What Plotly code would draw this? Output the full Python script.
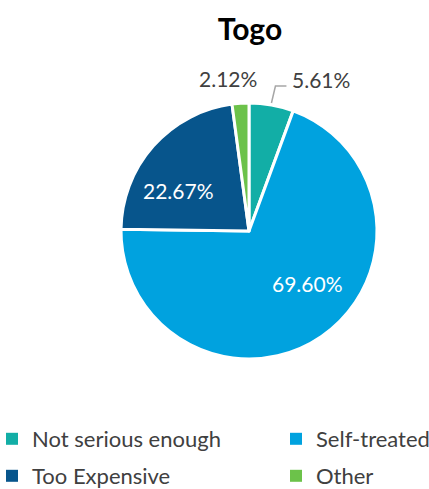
import math
import plotly.graph_objects as go

categories = ["Not serious enough", "Self-treated", "Too Expensive", "Other"]
shares = [5.61, 69.60, 22.67, 2.12]
colors = ["#12AEA6", "#00A2DF", "#07558C", "#6CC24A"]

W, H = 429, 489
CX, CY, R = 249, 231, 128          # pie centre and radius in pixels
TEXT = "#404040"
LABEL_SIZE = 21

# where each percentage label sits: inside as (radius fraction, angle in degrees
# clockwise from 12 o'clock), or outside next to the slice
label_spot = {
    "Not serious enough": "outside-right",
    "Self-treated": (0.61, 132),
    "Too Expensive": (0.64, -60),
    "Other": "outside-left",
}


def px_to_paper(x, y):
    return x / W, 1 - y / H


fig = go.Figure()

fig.add_trace(
    go.Pie(
        labels=categories,
        values=shares,
        sort=False,
        direction="clockwise",
        rotation=0,
        marker=dict(colors=colors, line=dict(color="white", width=3)),
        textinfo="none",
        domain=dict(x=[(CX - R) / W, (CX + R) / W],
                    y=[1 - (CY + R) / H, 1 - (CY - R) / H]),
        showlegend=False,
        hoverinfo="label+value",
    )
)

total = sum(shares)
cum = 0.0
shapes, annotations = [], []
for name, v in zip(categories, shares):
    mid = (cum + v / 2) / total * 2 * math.pi
    cum += v
    spot = label_spot[name]
    txt = f"{v:.2f}%"
    if isinstance(spot, tuple):
        frac, ang = spot
        a = math.radians(ang)
        x, y = px_to_paper(CX + frac * R * math.sin(a), CY - frac * R * math.cos(a))
        annotations.append(dict(
            x=x, y=y, xref="paper", yref="paper", showarrow=False,
            xanchor="center", yanchor="middle", text=txt,
            font=dict(family="Lato", size=LABEL_SIZE, color="white"),
        ))
        continue
    ex, ey = CX + R * math.sin(mid), CY - R * math.cos(mid)
    if spot == "outside-right":
        # elbow leader line, label to its right
        kx, ky = ex + 4, ey - 19
        hx = kx + 11
        p0, p1, p2 = px_to_paper(ex, ey - 2), px_to_paper(kx, ky), px_to_paper(hx, ky)
        shapes.append(dict(
            type="path", xref="paper", yref="paper",
            path=f"M {p0[0]} {p0[1]} L {p1[0]} {p1[1]} L {p2[0]} {p2[1]}",
            line=dict(color="#A6A6A6", width=1.5),
        ))
        x, y = px_to_paper(hx + 4, ky - 6)
        annotations.append(dict(
            x=x, y=y, xref="paper", yref="paper", showarrow=False,
            xanchor="left", yanchor="middle", text=txt,
            font=dict(family="Lato", size=LABEL_SIZE, color=TEXT),
        ))
    else:
        x, y = px_to_paper(ex - 12, ey - 25)
        annotations.append(dict(
            x=x, y=y, xref="paper", yref="paper", showarrow=False,
            xanchor="center", yanchor="middle", text=txt,
            font=dict(family="Lato", size=LABEL_SIZE, color=TEXT),
        ))

# one legend per entry so the 2x2 grid can be spaced freely
legend_ids = ["legend", "legend2", "legend3", "legend4"]
legend_xy = [(-8, 439), (276, 439), (-8, 476), (276, 476)]
for name, col, lg in zip(categories, colors, legend_ids):
    fig.add_trace(go.Scatter(
        x=[None], y=[None], mode="markers", name=name,
        marker=dict(symbol="square", size=9, color=col),
        legend=lg, showlegend=True, hoverinfo="skip",
    ))

legend_layout = {}
for lg, (lx, ly) in zip(legend_ids, legend_xy):
    legend_layout[lg] = dict(
        x=lx / W, y=1 - ly / H,
        orientation="h", xanchor="left", yanchor="middle",
        font=dict(family="Lato", size=22, color=TEXT),
        itemsizing="constant", bgcolor="rgba(0,0,0,0)",
    )

fig.update_layout(
    width=W,
    height=H,
    margin=dict(l=0, r=0, t=0, b=0, autoexpand=False),
    paper_bgcolor="white",
    plot_bgcolor="white",
    font=dict(family="Lato", color=TEXT),
    xaxis=dict(visible=False),
    yaxis=dict(visible=False),
    title=dict(
        text="<b>Togo</b>",
        x=250 / W,
        xanchor="center",
        y=1 - 29 / H,
        yanchor="middle",
        font=dict(family="Lato", size=30, color="black"),
    ),
    shapes=shapes,
    annotations=annotations,
    **legend_layout,
)

fig.write_html("out.html")
